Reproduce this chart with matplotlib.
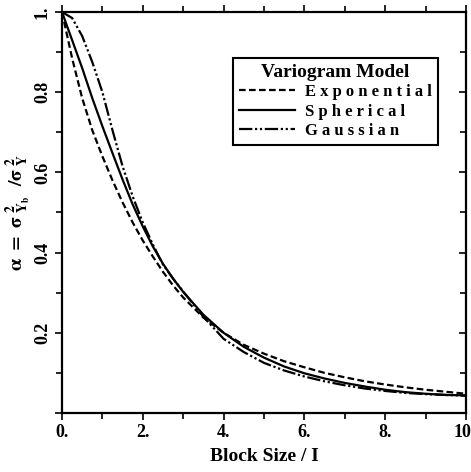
import matplotlib.pyplot as plt
import matplotlib.transforms as mtransforms
import numpy as np

plt.rcParams['font.family'] = 'Liberation Serif'
plt.rcParams['font.weight'] = 'bold'
plt.rcParams['mathtext.fontset'] = 'stix'

# block size / integral scale
block = [0, 0.25, 0.5, 0.75, 1.0, 1.25, 1.5, 1.75, 2.0, 2.25, 2.5, 2.75, 3.0,
         3.5, 4.0, 4.5, 5.0, 5.5, 6.0, 6.5, 7.0, 7.5, 8.0, 8.5, 9.0, 9.5, 10.0]

# variance reduction factor
exponential = [1.0, 0.885, 0.785, 0.705, 0.64, 0.58, 0.525, 0.475, 0.43, 0.39,
               0.352, 0.318, 0.288, 0.238, 0.2, 0.17, 0.148, 0.129, 0.114, 0.1,
               0.089, 0.079, 0.071, 0.064, 0.058, 0.053, 0.048]
spherical = [1.0, 0.93, 0.86, 0.785, 0.715, 0.648, 0.582, 0.52, 0.465, 0.415,
             0.372, 0.335, 0.302, 0.245, 0.2, 0.165, 0.138, 0.116, 0.099, 0.086,
             0.075, 0.066, 0.058, 0.052, 0.048, 0.045, 0.044]
gaussian = [1.0, 0.985, 0.94, 0.875, 0.8, 0.705, 0.615, 0.54, 0.475, 0.42,
            0.37, 0.335, 0.303, 0.24, 0.185, 0.152, 0.125, 0.106, 0.091, 0.079,
            0.069, 0.061, 0.055, 0.05, 0.047, 0.045, 0.043]

fig = plt.figure(figsize=(4.71, 4.72), dpi=100)
ax = fig.add_axes([62/471, 1 - 413/472, (466-62)/471, (413-12)/472])

ax.plot(block, exponential, color='black', lw=1.6, ls=(0, (3, 1.5)), label='E x p o n e n t i a l')
ax.plot(block, spherical, color='black', lw=1.6, ls='-', label='S p h e r i c a l')
ax.plot(block, gaussian, color='black', lw=1.6, ls=(0, (6, 1.2, 1, 1.2, 1, 1.2)), label='G a u s s i a n')

ax.set_xlim(0, 10)
ax.set_ylim(0, 1)

ax.set_xticks([0, 2, 4, 6, 8, 10])
ax.set_xticklabels(['0.', '2.', '4.', '6.', '8.', '10'])
ax.set_xticks(np.arange(1, 10, 2), minor=True)
ax.set_yticks([0, 0.2, 0.4, 0.6, 0.8, 1.0])
ax.set_yticklabels(['', '0.2', '0.4', '0.6', '0.8', '1.'], rotation=90, va='center')
ax.set_yticks(np.arange(0.1, 1.0, 0.2), minor=True)

ax.tick_params(which='both', direction='out', width=1.2, labelsize=13, pad=3)
ax.tick_params(which='major', length=5)
ax.tick_params(which='minor', length=4)
ax.tick_params(axis='y', which='both', right=True, labelright=False)
ax.tick_params(axis='x', which='both', top=True, labeltop=False)
for s in ax.spines.values():
    s.set_linewidth(1.6)

# right side ticks point inwards
for t in ax.yaxis.get_majorticklines()[1::2] + ax.yaxis.get_minorticklines()[1::2]:
    t.set_marker(0)

# keep the "10" inside the figure
lab10 = ax.get_xticklabels()[-1]
lab10.set_transform(lab10.get_transform() + mtransforms.ScaledTranslation(-4/100, 0, fig.dpi_scale_trans))

ax.set_xlabel('Block Size / I', fontsize=14, fontweight='bold', labelpad=5)
ax.set_ylabel(r'$\mathbf{\alpha\ =\ \sigma^{\ 2}_{\ Y_b}\ \ /\sigma^{\ 2}_{\ Y}}$', fontsize=14)
ax.yaxis.set_label_coords(-0.072, 0.5)

leg = ax.legend(title='Variogram Model', loc='upper left', bbox_to_anchor=(0.423, 0.885),
                fancybox=False, edgecolor='black', framealpha=1, fontsize=12,
                title_fontsize=14, handlelength=3.4, handletextpad=0.6,
                labelspacing=0.2, borderpad=0.35, borderaxespad=0)
leg.get_frame().set_linewidth(1.5)
leg.get_title().set_fontweight('bold')

fig.savefig('out.png', dpi=100)
